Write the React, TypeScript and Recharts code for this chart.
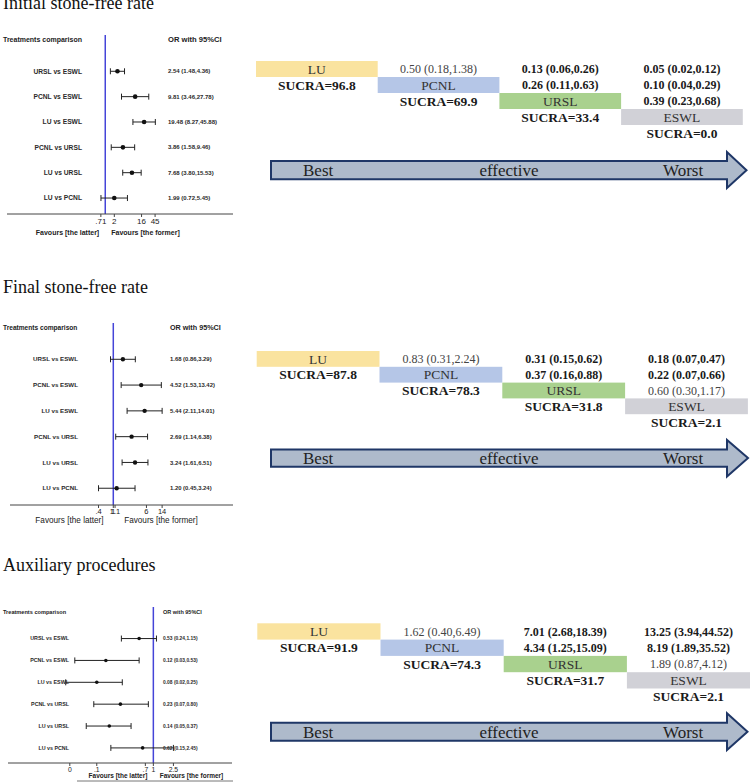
import React from "react";
import { ScatterChart, Scatter, XAxis, YAxis, ErrorBar, ReferenceLine } from "recharts";

// ---------- data ----------
const comparisons = ["URSL vs ESWL", "PCNL vs ESWL", "LU vs ESWL", "PCNL vs URSL", "LU vs URSL", "LU vs PCNL"];

const initialOR = [2.54, 9.81, 19.48, 3.86, 7.68, 1.99];
const initialLo = [1.48, 3.46, 8.27, 1.58, 3.8, 0.72];
const initialHi = [4.36, 27.78, 45.88, 9.46, 15.53, 5.45];

const finalOR = [1.68, 4.52, 5.44, 2.69, 3.24, 1.2];
const finalLo = [0.86, 1.53, 2.11, 1.14, 1.61, 0.45];
const finalHi = [3.29, 13.42, 14.01, 6.38, 6.51, 3.24];

const auxOR = [0.53, 0.12, 0.08, 0.23, 0.14, 0.62];
const auxLo = [0.24, 0.03, 0.02, 0.07, 0.05, 0.15];
const auxHi = [1.15, 0.53, 0.25, 0.8, 0.37, 2.45];

const initialTicks = [0.715, 2, 16, 45];
const initialTickLabels = [".71", "2", "16", "45"];
const finalTicks = [0.45, 1, 1.1, 6, 14];
const finalTickLabels = [".4", "1", "1.1", "6", "14"];
const auxTicks = [0.024, 0.08, 0.7, 1, 2.45];
const auxTickLabels = ["0", ".1", ".7", "1", "2.5"];

const titles = ["Initial stone-free rate", "Final stone-free rate", "Auxiliary procedures"];

const treatments = ["LU", "PCNL", "URSL", "ESWL"];
const initialSucra = ["96.8", "69.9", "33.4", "0.0"];
const finalSucra = ["87.8", "78.3", "31.8", "2.1"];
const auxSucra = ["91.9", "74.3", "31.7", "2.1"];

// league upper triangle: [row][col] for row<col, value / low / high
const initialLeagueOR = [[0.5, 0.13, 0.05], [0.26, 0.1], [0.39]];
const initialLeagueLo = [[0.18, 0.06, 0.02], [0.11, 0.04], [0.23]];
const initialLeagueHi = [[1.38, 0.26, 0.12], [0.63, 0.29], [0.68]];

const finalLeagueOR = [[0.83, 0.31, 0.18], [0.37, 0.22], [0.6]];
const finalLeagueLo = [[0.31, 0.15, 0.07], [0.16, 0.07], [0.3]];
const finalLeagueHi = [[2.24, 0.62, 0.47], [0.88, 0.66], [1.17]];

const auxLeagueOR = [[1.62, 7.01, 13.25], [4.34, 8.19], [1.89]];
const auxLeagueLo = [[0.4, 2.68, 3.94], [1.25, 1.89], [0.87]];
const auxLeagueHi = [[6.49, 18.39, 44.52], [15.09, 35.52], [4.12]];

const arrowWords = ["Best", "effective", "Worst"];

// ---------- styles ----------
const SANS = "'Liberation Sans', Arial, Helvetica, sans-serif";
const SERIF = "'Liberation Serif', 'Times New Roman', Times, serif";
const BOX_COLORS = ["#FAE39F", "#B5C6E7", "#A9D18E", "#D1D1D7"];

const fmt = (v: number, l: number, h: number) => `${v.toFixed(2)} (${l.toFixed(2)},${h.toFixed(2)})`;

type ForestCfg = {
  or: number[]; lo: number[]; hi: number[];
  ticks: number[]; tickLabels: string[];
  top: number; height: number; plotTop: number; plotLeft: number; plotRight: number; axisY: number;
  xDomain: [number, number]; yDomain: [number, number]; headerY: number;
  nameX: number; orX: number; headerFont: number; orHeaderFont: number; nameFont: number; orFont: number; tickFont: number;
  r: number; cap: number;
  favFont: number; favBold: boolean; favY: number; favL: number; favR: number;
};

const forestPanels: ForestCfg[] = [
  {
    or: initialOR, lo: initialLo, hi: initialHi, ticks: initialTicks, tickLabels: initialTickLabels,
    top: 0, height: 240, plotTop: 35, plotLeft: 7, plotRight: 233, axisY: 214,
    xDomain: [5.5e-4, 17300], yDomain: [-0.432, 6.63], headerY: -0.262,
    nameX: 82, orX: 168, headerFont: 7, orHeaderFont: 7.6, nameFont: 6.7, orFont: 6, tickFont: 8,
    r: 2.3, cap: 3, favFont: 7, favBold: true, favY: 233, favL: 67.5, favR: 145.5,
  },
  {
    or: finalOR, lo: finalLo, hi: finalHi, ticks: finalTicks, tickLabels: finalTickLabels,
    top: 300, height: 230, plotTop: 323, plotLeft: 10, plotRight: 233, axisY: 505,
    xDomain: [0.00376, 646], yDomain: [-0.407, 6.65], headerY: -0.24,
    nameX: 78, orX: 170, headerFont: 6.6, orHeaderFont: 7.2, nameFont: 6.2, orFont: 5.9, tickFont: 7.5,
    r: 2.2, cap: 3, favFont: 8.2, favBold: false, favY: 520.5, favL: 69.5, favR: 161,
  },
  {
    or: auxOR, lo: auxLo, hi: auxHi, ticks: auxTicks, tickLabels: auxTickLabels,
    top: 590, height: 192, plotTop: 607, plotLeft: 8, plotRight: 232, axisY: 763,
    xDomain: [0.00152, 33.5], yDomain: [-0.443, 6.69], headerY: -0.215,
    nameX: 69, orX: 163, headerFont: 5.6, orHeaderFont: 5.5, nameFont: 5.35, orFont: 4.9, tickFont: 6.8,
    r: 1.8, cap: 3, favFont: 6.5, favBold: true, favY: 776, favL: 118, favR: 191.5,
  },
];

type LeagueCfg = {
  sucra: string[]; ors: number[][]; los: number[][]; his: number[][];
  x0: number; y0: number; colW: number; rowH: number;
  arrow: { left: number; bodyTop: number; bodyBottom: number; headBase: number; headTop: number; headBottom: number; tip: number };
};

const leaguePanels: LeagueCfg[] = [
  {
    sucra: initialSucra, ors: initialLeagueOR, los: initialLeagueLo, his: initialLeagueHi,
    x0: 256, y0: 61, colW: 121.7, rowH: 16,
    arrow: { left: 271, bodyTop: 161, bodyBottom: 179.3, headBase: 727, headTop: 152, headBottom: 188, tip: 746.5 },
  },
  {
    sucra: finalSucra, ors: finalLeagueOR, los: finalLeagueLo, his: finalLeagueHi,
    x0: 256.7, y0: 351, colW: 122.8, rowH: 15.8,
    arrow: { left: 271, bodyTop: 449.5, bodyBottom: 466.7, headBase: 727, headTop: 440, headBottom: 476.5, tip: 748 },
  },
  {
    sucra: auxSucra, ors: auxLeagueOR, los: auxLeagueLo, his: auxLeagueHi,
    x0: 257.3, y0: 623.3, colW: 123.2, rowH: 16.3,
    arrow: { left: 271, bodyTop: 722.7, bodyBottom: 740.7, headBase: 727, headTop: 713.3, headBottom: 750, tip: 747.5 },
  },
];

const titleBaselines = [9, 293, 571];

// ---------- forest plot ----------
function Forest({ cfg }: { cfg: ForestCfg }) {
  const data = comparisons.map((name, i) => ({
    name,
    y: i + 1,
    or: cfg.or[i],
    err: [cfg.or[i] - cfg.lo[i], cfg.hi[i] - cfg.or[i]],
  }));
  const yTicks = [cfg.headerY, 1, 2, 3, 4, 5, 6];
  const chartW = 240;
  const xAxisH = cfg.height - (cfg.axisY - cfg.top);

  const renderTick = (props: any) => {
    const { y, payload } = props;
    const v = payload.value;
    if (v === cfg.headerY) {
      return (
        <g>
          <text x={3} y={y} dy="0.35em" fontSize={cfg.headerFont} fontWeight="bold" fill="#222" fontFamily={SANS}>
            Treatments comparison
          </text>
          <text x={cfg.orX} y={y} dy="0.35em" fontSize={cfg.orHeaderFont} fontWeight="bold" fill="#222" fontFamily={SANS}>
            OR with 95%CI
          </text>
        </g>
      );
    }
    const row = data[v - 1];
    if (!row) return <g />;
    const i = v - 1;
    return (
      <g>
        <text x={cfg.nameX} y={y} dy="0.35em" textAnchor="end" fontSize={cfg.nameFont} fontWeight="bold" fill="#2a2a2a" fontFamily={SANS}>
          {row.name}
        </text>
        <text x={cfg.orX} y={y} dy="0.35em" fontSize={cfg.orFont} fontWeight="bold" fill="#2a2a2a" fontFamily={SANS}>
          {fmt(cfg.or[i], cfg.lo[i], cfg.hi[i])}
        </text>
      </g>
    );
  };

  return (
    <div style={{ position: "absolute", left: 0, top: cfg.top }}>
      <ScatterChart
        width={chartW}
        height={cfg.height}
        margin={{ top: cfg.plotTop - cfg.top, left: cfg.plotLeft, right: chartW - cfg.plotRight, bottom: 0 }}
      >
        <XAxis
          type="number"
          dataKey="or"
          scale="log"
          domain={cfg.xDomain}
          allowDataOverflow
          ticks={cfg.ticks}
          interval={0}
          height={xAxisH}
          tickSize={3}
          tickMargin={1}
          stroke="#444"
          tickFormatter={(v: number, idx: number) => cfg.tickLabels[idx] ?? String(v)}
          tick={{ fontSize: cfg.tickFont, fill: "#222", fontFamily: SANS }}
        />
        <YAxis
          type="number"
          dataKey="y"
          domain={cfg.yDomain}
          reversed
          allowDataOverflow
          ticks={yTicks}
          interval={0}
          mirror
          axisLine={false}
          tickLine={false}
          tick={renderTick}
        />
        <ReferenceLine x={1} stroke="#4545d8" strokeWidth={1.5} />
        <Scatter
          data={data}
          isAnimationActive={false}
          shape={(p: any) => <circle cx={p.cx} cy={p.cy} r={cfg.r} fill="#111" />}
        >
          <ErrorBar dataKey="err" direction="x" width={cfg.cap} stroke="#222" strokeWidth={1} />
        </Scatter>
      </ScatterChart>
    </div>
  );
}

// ---------- league table + arrow ----------
function League({ cfg }: { cfg: LeagueCfg }) {
  const items: React.ReactNode[] = [];
  for (let r = 0; r < 5; r++) {
    for (let c = 0; c < 4; c++) {
      const cx = cfg.x0 + (c + 0.5) * cfg.colW;
      const cy = cfg.y0 + (r + 0.5) * cfg.rowH;
      if (r === c) {
        items.push(
          <rect key={`b${r}${c}`} x={cfg.x0 + c * cfg.colW} y={cfg.y0 + r * cfg.rowH} width={cfg.colW} height={cfg.rowH} fill={BOX_COLORS[c]} />
        );
        items.push(
          <text key={`t${r}${c}`} x={cx} y={cy} dy="0.35em" textAnchor="middle" fontSize={13.5} fill="#333" fontFamily={SERIF}>
            {treatments[c]}
          </text>
        );
      } else if (r === c + 1) {
        items.push(
          <text key={`s${r}${c}`} x={cx} y={cy} dy="0.35em" textAnchor="middle" fontSize={13.5} fontWeight="bold" fill="#1a1a1a" fontFamily={SERIF}>
            {`SUCRA=${cfg.sucra[c]}`}
          </text>
        );
      } else if (r < c) {
        const v = cfg.ors[r][c - r - 1];
        const l = cfg.los[r][c - r - 1];
        const h = cfg.his[r][c - r - 1];
        const sig = h < 1 || l > 1;
        items.push(
          <text key={`o${r}${c}`} x={cx} y={cy} dy="0.35em" textAnchor="middle" fontSize={12}
            fontWeight={sig ? "bold" : "normal"} fill={sig ? "#1a1a1a" : "#444"} fontFamily={SERIF}>
            {fmt(v, l, h)}
          </text>
        );
      }
    }
  }
  const a = cfg.arrow;
  const cyA = (a.bodyTop + a.bodyBottom) / 2;
  const pts = [
    [a.left, a.bodyTop], [a.headBase, a.bodyTop], [a.headBase, a.headTop], [a.tip, cyA],
    [a.headBase, a.headBottom], [a.headBase, a.bodyBottom], [a.left, a.bodyBottom],
  ].map((p) => p.join(",")).join(" ");
  return (
    <g>
      {items}
      <polygon points={pts} fill="#AEBACB" stroke="#1F3767" strokeWidth={2} strokeLinejoin="miter" />
      <text x={303} y={cyA + 5.8} fontSize={17} fill="#222" fontFamily={SERIF}>{arrowWords[0]}</text>
      <text x={509} y={cyA + 5.8} textAnchor="middle" fontSize={17} fill="#222" fontFamily={SERIF}>{arrowWords[1]}</text>
      <text x={663} y={cyA + 5.8} fontSize={17} fill="#222" fontFamily={SERIF}>{arrowWords[2]}</text>
    </g>
  );
}

export default function App() {
  return (
    <div style={{ position: "absolute", left: 0, top: 0, width: 750, height: 782, overflow: "hidden", background: "#fff" }}>
      {forestPanels.map((cfg, i) => (
        <Forest key={i} cfg={cfg} />
      ))}
      <svg width={750} height={782} style={{ position: "absolute", left: 0, top: 0, pointerEvents: "none" }}>
        {titles.map((t, i) => (
          <text key={t} x={3} y={titleBaselines[i]} fontSize={18} fill="#111" fontFamily={SERIF}>{t}</text>
        ))}
        {forestPanels.map((cfg, i) => (
          <g key={`fav${i}`} fontFamily={SANS} fontSize={cfg.favFont} fontWeight={cfg.favBold ? "bold" : "normal"} fill="#222">
            <text x={cfg.favL} y={cfg.favY} dy="0.35em" textAnchor="middle">Favours [the latter]</text>
            <text x={cfg.favR} y={cfg.favY} dy="0.35em" textAnchor="middle">Favours [the former]</text>
          </g>
        ))}
        <line x1={77} x2={233} y1={781} y2={781} stroke="#777" strokeWidth={1} />
        {leaguePanels.map((cfg, i) => (
          <League key={i} cfg={cfg} />
        ))}
      </svg>
    </div>
  );
}
